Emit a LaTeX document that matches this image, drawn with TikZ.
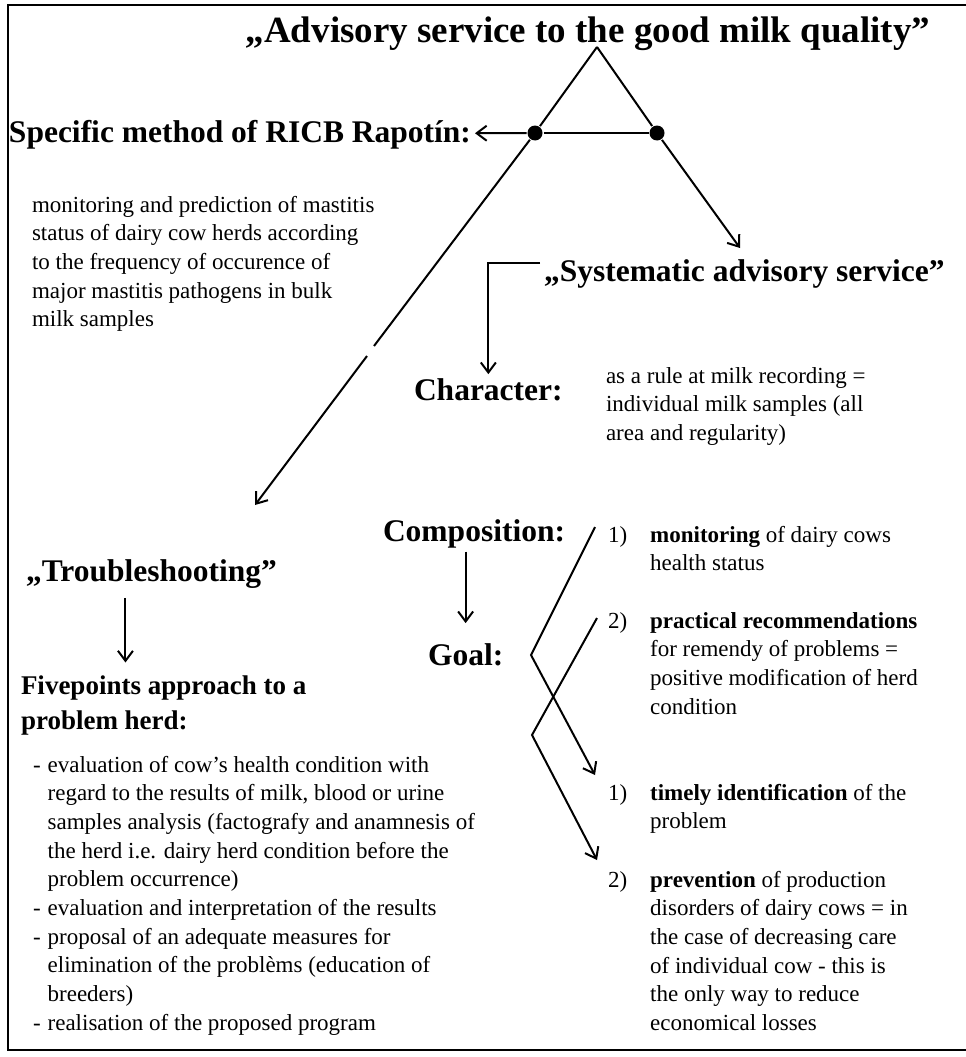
\documentclass[tikz,border=0pt]{standalone}
\usepackage{fontspec}
\setmainfont{Liberation Serif}
\usetikzlibrary{arrows.meta}

\tikzset{
  ttl/.style={font=\fontsize{37}{40}\selectfont\bfseries, inner sep=2pt, anchor=base},
  head/.style={font=\fontsize{31.5}{36}\selectfont\bfseries, inner sep=3pt, anchor=base west},
  txt/.style={font=\fontsize{23}{28.7}\selectfont, inner sep=0pt, anchor=base west},
  dot/.style={circle, fill=black, minimum size=15pt, inner sep=0pt},
}

\begin{document}
\begin{tikzpicture}[x=1pt, y=-1pt, line width=2pt, >={Straight Barb[length=10pt,width=15pt]}]

      \useasboundingbox (0,0) rectangle (966,1057);
      \draw (966,5) -- (8,5) -- (8,1050) -- (966,1050);

      \node[ttl] (t) at (588,43){„Advisory service to the good milk quality”};
      \coordinate (a) at (597,47);
      \node[dot] (l) at (535,133){};
      \node[dot] (r) at (657,133){};
      \node[head] (s) at (5,142){Specific method of RICB Rapotín:};

      \node[txt] (m) at (31,212){\begin{tabular}[t]{@{}l@{}}
        monitoring and prediction of mastitis\\
        status of dairy cow herds according\\
        to the frequency of occurence of\\
        major mastitis pathogens in bulk\\
        milk samples\end{tabular}};

      \coordinate (g1) at (374,346);
      \coordinate (g2) at (367,356);
      \coordinate (lt) at (255,505);
      \coordinate (rt) at (740,248);

      \node[head] (y) at (540,281){„Systematic advisory service”};
      \node[head] (c) at (410,400){Character:};
      \node[txt] (ct) at (605,383){\begin{tabular}[t]{@{}l@{}}
        as a rule at milk recording =\\
        individual milk samples (all\\
        area and regularity)\end{tabular}};

      \node[head] (o) at (379,541){Composition:};
      \node[head] (g) at (424,665){Goal:};

      \node[txt] (n1) at (607,542){\begin{tabular}[t]{@{}l@{\hspace{23pt}}l@{}}
        1) & \textbf{monitoring} of dairy cows\\
           & health status\end{tabular}};
      \node[txt] (n2) at (607,628){\begin{tabular}[t]{@{}l@{\hspace{23pt}}l@{}}
        2) & \textbf{practical recommendations}\\
           & for remendy of problems =\\
           & positive modification of herd\\
           & condition\end{tabular}};
      \node[txt] (k1) at (607,800){\begin{tabular}[t]{@{}l@{\hspace{23pt}}l@{}}
        1) & \textbf{timely identification} of the\\
           & problem\end{tabular}};
      \node[txt] (k2) at (607,887){\begin{tabular}[t]{@{}l@{\hspace{23pt}}l@{}}
        2) & \textbf{prevention} of production\\
           & disorders of dairy cows = in\\
           & the case of decreasing care\\
           & of individual cow - this is\\
           & the only way to reduce\\
           & economical losses\end{tabular}};

      \coordinate (u1) at (595,527);
      \coordinate (v1) at (531,655);
      \coordinate (w1) at (595,775);
      \coordinate (u2) at (597,618);
      \coordinate (v2) at (532,735);
      \coordinate (w2) at (597,860);

      \node[head, font=\fontsize{31.5}{34}\selectfont\bfseries] (tr) at (22,581){„Troubleshooting”};
      \node[txt, font=\fontsize{27}{35}\selectfont\bfseries] (f) at (20,694){\begin{tabular}[t]{@{}l@{}}
        Fivepoints approach to a\\
        problem herd:\end{tabular}};
      \node[txt] (e) at (32,772){\begin{tabular}[t]{@{}l@{\hspace{7pt}}l@{}}
        - & evaluation of cow's health condition with\\
          & regard to the results of milk, blood or urine\\
          & samples analysis (factografy and anamnesis of\\
          & the herd i.e. dairy herd condition before the\\
          & problem occurrence)\\
        - & evaluation and interpretation of the results\\
        - & proposal of an adequate measures for\\
          & elimination of the problèms (education of\\
          & breeders)\\
        - & realisation of the proposed program\end{tabular}};

      \draw (a) -- (l);
      \draw (a) -- (r);
      \draw (l) -- (r);
      \draw[->] (l) -- (s);
      \draw (l) -- (g1);
      \draw[->] (g2) -- (lt);
      \draw[->] (r) -- (rt);
      \draw[->] ([yshift=10pt]y.west) -| (c.north);
      \draw[->,shorten >=16pt] (g.north |- o.south) -- (g.north);
      \draw[->,shorten <=6pt,shorten >=6pt] ([xshift=-26pt]tr.south) -- ([xshift=-26pt]tr.south |- f.north);
      \draw[->] (u1) -- (v1) -- (w1);
      \draw[->] (u2) -- (v2) -- (w2);
    \end{tikzpicture}
\end{document}
